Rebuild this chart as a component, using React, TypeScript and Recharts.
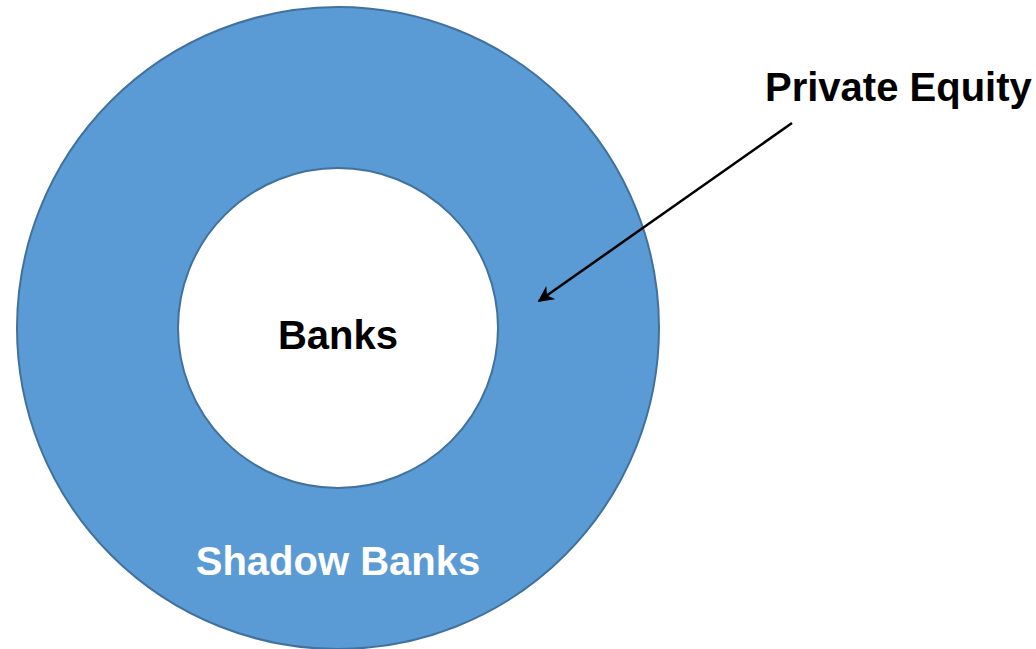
import { PieChart, Pie, Cell } from "recharts"

const rings = [{ name: "Shadow Banks", value: 1 }]
const centerLabel = "Banks"
const ringLabel = "Shadow Banks"
const calloutLabel = "Private Equity"

const FONT = "'Liberation Sans', Arial, sans-serif"

// drawn in the label layer so it sits on top of the ring
function renderRing(props: any) {
  const { cx, cy, innerRadius, outerRadius } = props
  const mid = (innerRadius + outerRadius) / 2
  return (
    <g>
      <defs>
        <marker id="arrowHead" viewBox="0 0 10 10" refX="9" refY="5" markerWidth="6.5" markerHeight="6.5" orient="auto-start-reverse">
          <path d="M0,0 L10,5 L0,10 L3,5 z" fill="#000" />
        </marker>
      </defs>
      <circle cx={cx} cy={cy} r={outerRadius} fill="none" stroke="#41719C" strokeWidth={2} />
      <circle cx={cx} cy={cy} r={innerRadius} fill="none" stroke="#41719C" strokeWidth={2} />
      <text x={cx} y={cy + 21} textAnchor="middle" fontFamily={FONT} fontWeight="bold" fontSize={40} fill="#000">
        {centerLabel}
      </text>
      <text x={cx} y={cy + mid + 6} textAnchor="middle" fontFamily={FONT} fontWeight="bold" fontSize={40} fill="#fff">
        {ringLabel}
      </text>
      <text x={765} y={101} textAnchor="start" fontFamily={FONT} fontWeight="bold" fontSize={40} fill="#000">
        {calloutLabel}
      </text>
      <line x1={792} y1={123} x2={539} y2={301} stroke="#000" strokeWidth={2.5} markerEnd="url(#arrowHead)" />
    </g>
  )
}

export default function App() {
  return (
    <div style={{ position: "absolute", left: 0, top: 0, background: "#fff" }}>
      <PieChart width={1036} height={649} margin={{ top: 0, right: 0, bottom: 0, left: 0 }}>
        <Pie
          data={rings}
          dataKey="value"
          cx={338}
          cy={328}
          innerRadius={160}
          outerRadius={321}
          startAngle={90}
          endAngle={-270}
          stroke="none"
          label={renderRing}
          labelLine={false}
          isAnimationActive={false}
        >
          {rings.map((r) => (
            <Cell key={r.name} fill="#5B9BD5" />
          ))}
        </Pie>
      </PieChart>
    </div>
  )
}
